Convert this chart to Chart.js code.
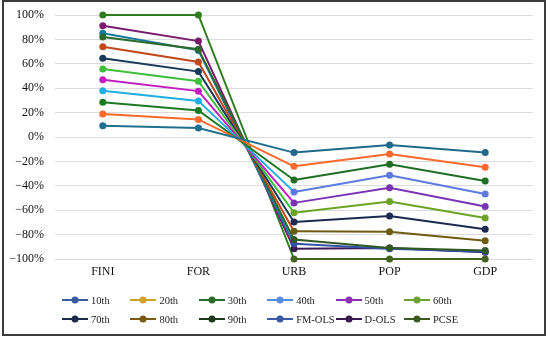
<!DOCTYPE html>
<html>
<head>
<meta charset="utf-8">
<script src="https://cdn.jsdelivr.net/npm/chart.js"></script>
<style>
    body { margin: 0; background: #fff; }
    #wrap { position: relative; width: 550px; height: 339px; }
    #chart { position: absolute; left: 0; top: 0; }
    #frame {
        position: absolute; left: 2px; top: 0; width: 544px; height: 336px;
        box-sizing: border-box; border: 2px solid #3c3c3c; pointer-events: none;
    }
    #legend { position: absolute; left: 0; top: 0; font-family: "Liberation Serif", "Times New Roman", serif; font-size: 10.5px; color: #222; }
    .item { position: absolute; height: 14px; display: flex; align-items: center; white-space: nowrap; }
    .item canvas { margin-right: 3px; }
</style>
</head>
<body>
<div id="wrap">
    <canvas id="chart" width="550" height="339"></canvas>
    <div id="legend"></div>
    <div id="frame"></div>
</div>
<script>
// Kategorien und Werte (in %)
const categories = ['FINI', 'FOR', 'URB', 'POP', 'GDP'];
const seriesNames = ['10th', '20th', '30th', '40th', '50th', '60th', '70th', '80th', '90th', 'FM-OLS', 'D-OLS', 'PCSE'];

const q10   = [9.3, 7.3, -12.8, -6.5, -12.8];
const q20   = [18.9, 14.4, -24, -14, -24.8];
const q30   = [28.4, 21.8, -35.2, -22.3, -36];
const q40   = [38, 29.6, -45, -31.3, -46.8];
const q50   = [47, 37.6, -54, -41.6, -56.9];
const q60   = [55.7, 45.7, -62, -52.8, -66.4];
const q70   = [64.5, 53.6, -69.6, -64.7, -75.7];
const q80   = [74, 61.5, -77.3, -77.6, -85];
const q90   = [82, 72, -84, -91, -93];
const fmols = [85, 71, -87.6, -91.5, -94];
const dols  = [91.2, 78.6, -91.6, -91, -94.5];
const pcse  = [100, 100, -100, -100, -100];

const yTicks = [-100, -80, -60, -40, -20, 0, 20, 40, 60, 80, 100];

const allValues = [q10, q20, q30, q40, q50, q60, q70, q80, q90, fmols, dols, pcse];

// Farben: linke Hälfte, rechte Hälfte, Legende
const leftColors = ['#1f6f8f', '#f8692a', '#1d7a24', '#23aee0', '#c21fbf', '#3fbf3a',
                    '#17395a', '#c0481a', '#2a6a2a', '#1878a0', '#7a1c6c', '#2f7d1f'];
const rightColors = ['#1f6a8a', '#fb6a2c', '#1f6e22', '#5b7be0', '#7b33b5', '#6aa424',
                     '#1c2a52', '#6e5a10', '#2e5a22', '#3451a8', '#3d1a55', '#43631e'];
const legendColors = ['#3b5c9c', '#cfa22a', '#2a6a2a', '#5a8ce2', '#8d2fb5', '#6ca234',
                      '#1c2a4c', '#7a5a12', '#1e3a1a', '#3a5aa5', '#3b1a4d', '#3b5a1b'];

const datasets = seriesNames.map((name, i) => ({
    label: name,
    data: allValues[i],
    borderColor: rightColors[i],
    backgroundColor: rightColors[i],
    borderWidth: 2,
    pointRadius: 3.5,
    pointHoverRadius: 3.5,
    pointBorderWidth: 0,
    pointBackgroundColor: categories.map((c, k) => k < 2 ? leftColors[i] : rightColors[i]),
    pointBorderColor: categories.map((c, k) => k < 2 ? leftColors[i] : rightColors[i]),
    segment: {
        borderColor: ctx => ctx.p0DataIndex < 2 ? leftColors[i] : rightColors[i]
    },
    clip: false,
    tension: 0
}));

const serif = "'Liberation Serif', 'Times New Roman', serif";

new Chart(document.getElementById('chart'), {
    type: 'line',
    data: { labels: categories, datasets: datasets },
    options: {
        responsive: false,
        animation: false,
        layout: { padding: { left: 0, right: 17, top: 15, bottom: 0 } },
        plugins: { legend: { display: false }, tooltip: { enabled: false } },
        scales: {
            x: {
                offset: true,
                grid: { display: false, drawTicks: false },
                border: { display: false },
                ticks: { color: '#111', font: { family: serif, size: 12 }, padding: 6 },
                afterFit: scale => { scale.height = 80; }
            },
            y: {
                min: -100,
                max: 100,
                afterBuildTicks: scale => { scale.ticks = yTicks.map(v => ({ value: v })); },
                grid: { color: '#dcdcdc', lineWidth: 1, drawTicks: false },
                border: { display: false },
                ticks: {
                    color: '#111',
                    font: { family: serif, size: 12 },
                    padding: 11,
                    callback: v => (v < 0 ? '\u2212' + Math.abs(v) : v) + '%'
                },
                afterFit: scale => {
                    scale.width = 55;
                    scale.paddingTop = 0;
                    scale.paddingBottom = 0;
                }
            }
        }
    }
});

// Legende als HTML, gleichmäßige Abstände wie im Original
const legendDiv = document.getElementById('legend');
seriesNames.forEach((name, i) => {
    const row = Math.floor(i / 6);
    const col = i % 6;
    const item = document.createElement('div');
    item.className = 'item';
    item.style.left = (62 + col * 68.4) + 'px';
    item.style.top = (293 + row * 19) + 'px';

    const sw = document.createElement('canvas');
    sw.width = 26; sw.height = 10;
    const c = sw.getContext('2d');
    c.strokeStyle = legendColors[i];
    c.fillStyle = legendColors[i];
    c.lineWidth = 2;
    c.beginPath(); c.moveTo(0, 5); c.lineTo(26, 5); c.stroke();
    c.beginPath(); c.arc(13, 5, 3.5, 0, Math.PI * 2); c.fill();

    const txt = document.createElement('span');
    txt.textContent = name;
    item.appendChild(sw);
    item.appendChild(txt);
    legendDiv.appendChild(item);
});
</script>
</body>
</html>
